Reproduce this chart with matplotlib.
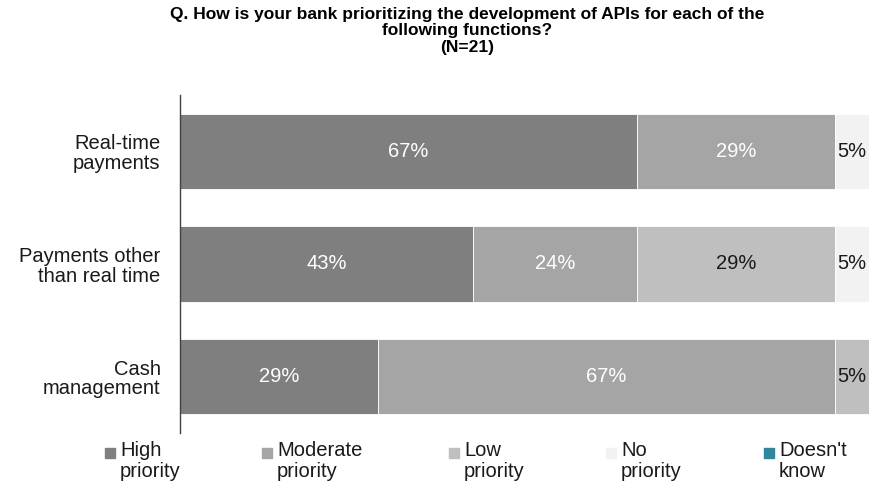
import matplotlib.pyplot as plt
from matplotlib.patches import Rectangle

plt.rcParams['font.family'] = ['Liberation Sans', 'DejaVu Sans']

functions = ['Real-time\npayments', 'Payments other\nthan real time', 'Cash\nmanagement']
series = ['High\npriority', 'Moderate\npriority', 'Low\npriority', 'No\npriority', "Doesn't\nknow"]
colors = ['#7f7f7f', '#a5a5a5', '#bfbfbf', '#f2f2f2', '#31859c']
label_colors = ['white', 'white', '#1a1a1a', '#1a1a1a', '#1a1a1a']

# percent per function, in series order
values = [
    [67, 29, 0, 5, 0],
    [43, 24, 29, 5, 0],
    [29, 67, 5, 0, 0],
]

title_lines = ['Q. How is your bank prioritizing the development of APIs for each of the',
               'following functions?', '(N=21)']

# left edge of each legend entry, in pixels
legend_x = [105, 262, 449, 606, 764]

W, H = 869, 486
fig = plt.figure(figsize=(W / 100, H / 100), dpi=100)
ax = fig.add_axes([180 / W, 0.109, 1 - 180 / W, 0.696])

ypos = list(range(len(functions)))
left = [0] * len(functions)
for s in range(len(series)):
    widths = [row[s] for row in values]
    bars = ax.barh(ypos, widths, left=left, height=0.667, color=colors[s],
                   edgecolor='white', linewidth=0.6)
    for b, w in zip(bars, widths):
        if w > 0:
            ax.text(b.get_x() + w / 2, b.get_y() + b.get_height() / 2, f'{w}%',
                    ha='center', va='center', fontsize=14.5, color=label_colors[s])
    left = [l + w for l, w in zip(left, widths)]

ax.set_xlim(0, 101)
ax.set_ylim(len(functions) - 0.5, -0.5)
ax.set_yticks(ypos)
ax.set_yticklabels(functions, fontsize=14.5, color='#1a1a1a', linespacing=1.05)
ax.tick_params(axis='y', length=0, pad=14)
ax.set_xticks([])
for side in ['top', 'right', 'bottom']:
    ax.spines[side].set_visible(False)
ax.spines['left'].set_color('#404040')
ax.spines['left'].set_linewidth(1.0)

# three-line heading, one text per line
for i, line in enumerate(title_lines):
    fig.text(0.538, 1 - (14 + 16.5 * i) / H, line, ha='center', va='center',
             fontsize=12.5, fontweight='bold')

# legend row along the bottom
for x, name, c in zip(legend_x, series, colors):
    fig.add_artist(Rectangle((x / W, 1 - 458 / H), 10 / W, 10 / H,
                             transform=fig.transFigure, color=c))
    fig.text((x + 15) / W, 1 - 441 / H, name, ha='left', va='top',
             fontsize=14.5, color='#1a1a1a', linespacing=1.1)

fig.savefig('out.png', dpi=100)
